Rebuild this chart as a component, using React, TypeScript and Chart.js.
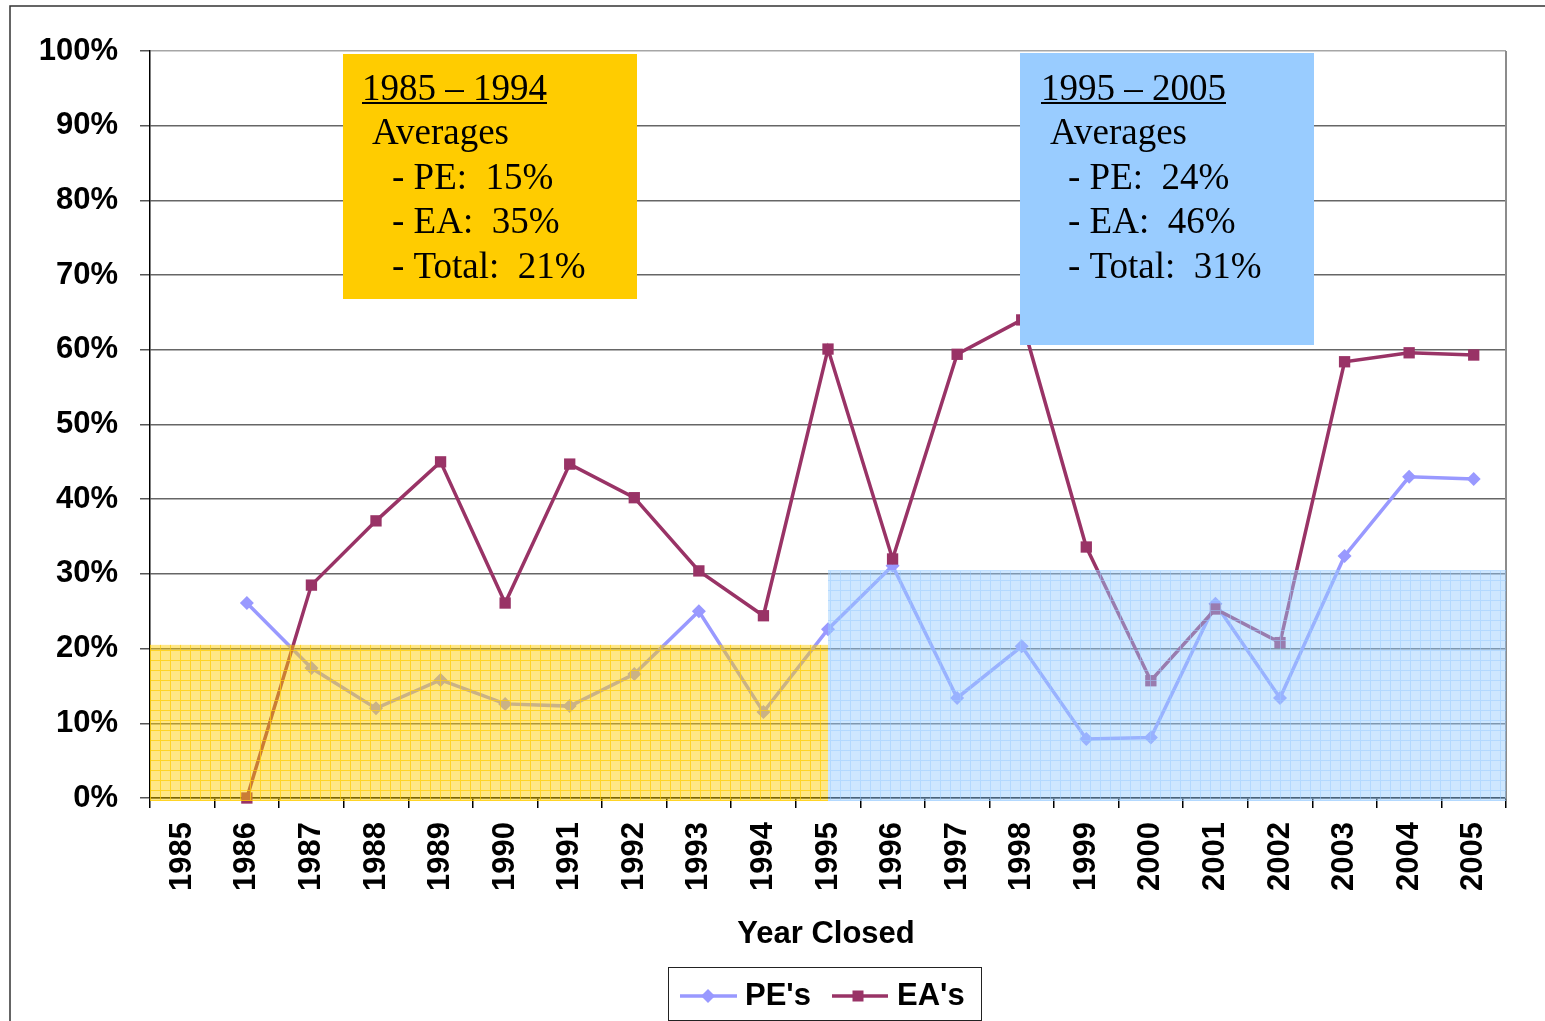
import React, { useEffect, useRef } from 'react';
import { Chart, registerables } from 'chart.js';

Chart.register(...registerables);

const years = ['1985', '1986', '1987', '1988', '1989', '1990', '1991', '1992', '1993', '1994', '1995', '1996', '1997', '1998', '1999', '2000', '2001', '2002', '2003', '2004', '2005'];
const peValues = [null, 26.1, 17.4, 12.0, 15.8, 12.6, 12.3, 16.6, 25.0, 11.5, 22.6, 31.1, 13.4, 20.3, 7.9, 8.1, 26.0, 13.4, 32.4, 43.0, 42.7];
const eaValues = [null, 0, 28.5, 37.1, 45.0, 26.1, 44.7, 40.2, 30.4, 24.4, 60.1, 32.0, 59.4, 64.0, 33.6, 15.7, 25.3, 20.8, 58.4, 59.6, 59.3];
const seriesNames = ["PE's", "EA's"];

// shaded period bands: [from category, to category, top value]
const bandFrom = [-0.5, 10];
const bandTo = [10, 20.5];
const bandTop = [20.5, 30.5];

const boxTitles = ['1985 – 1994', '1995 – 2005'];
const boxLines = [
  ['Averages', '- PE:  15%', '- EA:  35%', '- Total:  21%'],
  ['Averages', '- PE:  24%', '- EA:  46%', '- Total:  31%'],
];

const PE_COLOR = '#9999FF';
const EA_COLOR = '#993366';
const SANS = '"Liberation Sans", Arial, sans-serif';
const SERIF = '"Liberation Serif", "Times New Roman", serif';

function makePattern(ctx: CanvasRenderingContext2D, r: number, g: number, b: number, baseA: number, lineA: number) {
  const c = document.createElement('canvas');
  c.width = 10;
  c.height = 10;
  const p = c.getContext('2d')!;
  p.fillStyle = `rgba(${r},${g},${b},${baseA})`;
  p.fillRect(0, 0, 10, 10);
  p.clearRect(0, 0, 10, 1);
  p.clearRect(0, 0, 1, 10);
  p.fillStyle = `rgba(${r},${g},${b},${lineA})`;
  p.fillRect(0, 0, 10, 1);
  p.fillRect(0, 1, 1, 9);
  return ctx.createPattern(c, 'repeat')!;
}

const framePlugin = {
  id: 'frame',
  beforeDraw(chart: any) {
    const ctx = chart.ctx as CanvasRenderingContext2D;
    ctx.save();
    ctx.strokeStyle = '#333';
    ctx.lineWidth = 1.5;
    ctx.strokeRect(10, 6, 1600, 1100);
    ctx.restore();
  },
  beforeDatasetsDraw(chart: any) {
    const ctx = chart.ctx as CanvasRenderingContext2D;
    const a = chart.chartArea;
    ctx.save();
    ctx.strokeStyle = '#8c8c8c';
    ctx.lineWidth = 2;
    ctx.beginPath();
    ctx.moveTo(a.right, a.top);
    ctx.lineTo(a.right, a.bottom);
    ctx.stroke();
    ctx.restore();
  },
};

const overlayPlugin = {
  id: 'overlay',
  afterDatasetsDraw(chart: any) {
    const ctx = chart.ctx as CanvasRenderingContext2D;
    const xs = chart.scales.x;
    const ys = chart.scales.y;
    const fills = [
      makePattern(ctx, 255, 204, 0, 0.48, 0.85),
      makePattern(ctx, 153, 204, 255, 0.48, 0.75),
    ];
    ctx.save();
    for (let i = 0; i < bandFrom.length; i++) {
      const x0 = xs.getPixelForValue(bandFrom[i]);
      const x1 = xs.getPixelForValue(bandTo[i]);
      const y0 = ys.getPixelForValue(bandTop[i]);
      const y1 = ys.getPixelForValue(0) + 3;
      ctx.fillStyle = fills[i];
      ctx.fillRect(x0, y0, x1 - x0, y1 - y0);
    }
    ctx.restore();
  },
  afterDraw(chart: any) {
    const ctx = chart.ctx as CanvasRenderingContext2D;
    ctx.save();
    // annotation boxes
    const boxes = [
      { x: 343, y: 54, w: 294, h: 245, color: '#FFCC00', tx: 362, ix: 372, lx: 392 },
      { x: 1020, y: 53, w: 294, h: 292, color: '#99CCFF', tx: 1041, ix: 1050, lx: 1068 },
    ];
    boxes.forEach((b, i) => {
      ctx.fillStyle = b.color;
      ctx.fillRect(b.x, b.y, b.w, b.h);
      ctx.fillStyle = '#000';
      ctx.font = `37px ${SERIF}`;
      ctx.textAlign = 'left';
      ctx.textBaseline = 'alphabetic';
      ctx.fillText(boxTitles[i], b.tx, 100);
      const tw = ctx.measureText(boxTitles[i]).width;
      ctx.fillRect(b.tx, 102, tw, 2);
      const lines = boxLines[i];
      ctx.fillText(lines[0], b.ix, 144);
      for (let k = 1; k < lines.length; k++) {
        ctx.fillText(lines[k], b.lx, 144 + k * 44.7);
      }
    });

    // x-axis title
    ctx.fillStyle = '#000';
    ctx.font = `bold 31px ${SANS}`;
    ctx.textAlign = 'center';
    ctx.textBaseline = 'alphabetic';
    ctx.fillText('Year Closed', 826, 943);

    // legend
    ctx.strokeStyle = '#222';
    ctx.lineWidth = 1;
    ctx.strokeRect(668.5, 967.5, 313, 53);
    const ly = 996;
    const items = [
      { x0: 680, x1: 737, mx: 708, tx: 745, color: PE_COLOR, shape: 'diamond' },
      { x0: 832, x1: 888, mx: 858, tx: 897, color: EA_COLOR, shape: 'square' },
    ];
    items.forEach((it, i) => {
      ctx.strokeStyle = it.color;
      ctx.lineWidth = 3.5;
      ctx.beginPath();
      ctx.moveTo(it.x0, ly);
      ctx.lineTo(it.x1, ly);
      ctx.stroke();
      ctx.fillStyle = it.color;
      ctx.beginPath();
      if (it.shape === 'diamond') {
        ctx.moveTo(it.mx - 7, ly);
        ctx.lineTo(it.mx, ly - 7);
        ctx.lineTo(it.mx + 7, ly);
        ctx.lineTo(it.mx, ly + 7);
        ctx.closePath();
      } else {
        ctx.rect(it.mx - 5.5, ly - 5.5, 11, 11);
      }
      ctx.fill();
      ctx.fillStyle = '#000';
      ctx.font = `bold 31px ${SANS}`;
      ctx.textAlign = 'left';
      ctx.textBaseline = 'middle';
      ctx.fillText(seriesNames[i], it.tx, ly);
    });
    ctx.restore();
  },
};

export default function App() {
  const ref = useRef<HTMLCanvasElement>(null);
  useEffect(() => {
    const canvas = ref.current!;
    const tickFont = { family: SANS, size: 31, weight: 'bold' as const };
    const chart = new Chart(canvas, {
      type: 'line',
      data: {
        labels: years,
        datasets: [
          {
            label: seriesNames[0],
            data: peValues,
            borderColor: PE_COLOR,
            backgroundColor: PE_COLOR,
            borderWidth: 3.5,
            pointStyle: 'rectRot',
            pointRadius: 7,
            pointBorderWidth: 0,
            pointBackgroundColor: PE_COLOR,
            tension: 0,
            clip: false,
            order: 1,
          } as any,
          {
            label: seriesNames[1],
            data: eaValues,
            borderColor: EA_COLOR,
            backgroundColor: EA_COLOR,
            borderWidth: 3.5,
            pointStyle: 'rect',
            pointRadius: 8,
            pointBorderWidth: 0,
            pointBackgroundColor: EA_COLOR,
            tension: 0,
            clip: false,
            order: 0,
          } as any,
        ],
      },
      options: {
        animation: false,
        responsive: false,
        layout: { padding: { top: 51, right: 39, left: 0, bottom: 0 } },
        plugins: {
          legend: { display: false },
          tooltip: { enabled: false },
          title: { display: false },
        },
        scales: {
          x: {
            type: 'category',
            offset: true,
            grid: {
              offset: true,
              drawOnChartArea: false,
              drawTicks: true,
              tickLength: 10,
              tickColor: '#000',
              lineWidth: 1.5,
            },
            border: { color: '#000', width: 1.5 },
            ticks: {
              minRotation: 90,
              maxRotation: 90,
              autoSkip: false,
              padding: 14,
              color: '#000',
              font: tickFont,
            },
            afterFit: (s: any) => {
              s.height = 223;
            },
          },
          y: {
            min: 0,
            max: 100,
            grid: {
              color: (c: any) => (c.tick && c.tick.value === 100 ? '#a6a6a6' : '#666'),
              lineWidth: 1.5,
              tickLength: 10,
              tickColor: '#555',
            },
            border: { color: '#000', width: 1.5 },
            ticks: {
              stepSize: 10,
              padding: 22,
              color: '#000',
              font: { ...tickFont, lineHeight: 1.0 },
              callback: (v: any) => `${v}%`,
            },
            afterFit: (s: any) => {
              s.width = 150;
            },
          },
        },
      } as any,
      plugins: [framePlugin, overlayPlugin],
    });
    return () => chart.destroy();
  }, []);
  return (
    <div style={{ position: 'fixed', left: 0, top: 0, width: 1545, height: 1021, background: '#fff' }}>
      <canvas ref={ref} width={1545} height={1021} style={{ display: 'block' }} />
    </div>
  );
}
